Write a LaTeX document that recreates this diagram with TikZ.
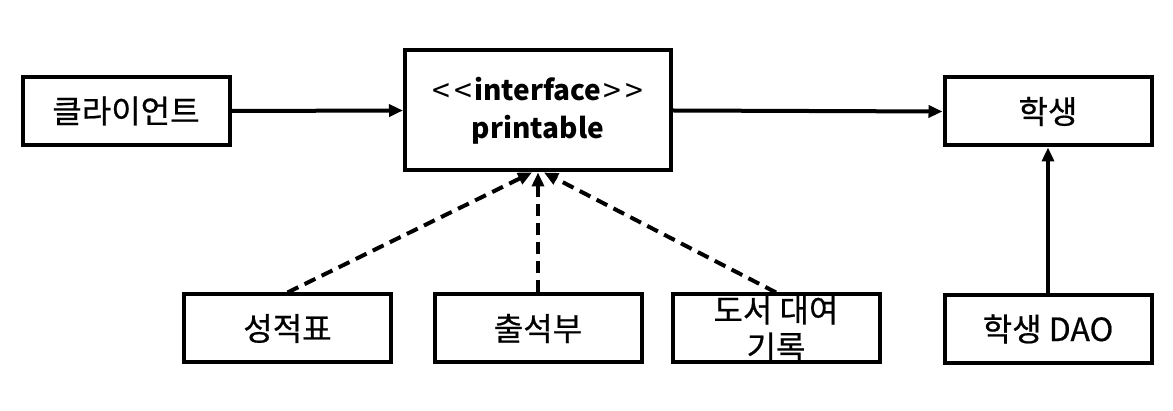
\documentclass[tikz,border=0pt]{standalone}
\usepackage{fontspec}
\setmainfont{Noto Sans CJK KR}
\newfontfamily\hfont[FakeBold=0.6]{Noto Sans CJK KR}
\usetikzlibrary{arrows.meta}
\newcommand\ltmark{{\mdseries\fontsize{32}{37}\selectfont<\kern4pt<\kern2pt}}
\newcommand\gtmark{{\mdseries\fontsize{32}{37}\selectfont\kern2pt>\kern4pt>}}
\begin{document}
\begin{tikzpicture}[x=1pt,y=-1pt,
  box/.style={draw, line width=4pt, inner sep=0pt, minimum width=207pt, minimum height=68pt, align=center, font=\hfont\fontsize{32}{37}\selectfont},
  arr/.style={line width=4pt, -{Triangle[length=14pt,width=12pt]}},
  dasharr/.style={arr, dash pattern=on 12pt off 7pt}]
\useasboundingbox (0,0) rectangle (1173,411);
\node[box] (client) at (126,111) {클라이언트};
\node[box, minimum width=266pt, minimum height=120pt, font=\fontsize{28}{38}\selectfont\bfseries] (iface) at (538,110.5) {\raisebox{-2pt}{\ltmark}interface\raisebox{-2pt}{\gtmark}\\printable};
\node[box] (stu) at (1048,111.5) {학생};
\node[box] (grade) at (287.5,328.5) {성적표};
\node[box] (attend) at (538,328.5) {출석부};
\node[box] (lib) at (776,328.5) {도서 대여\\기록};
\node[box] (dao) at (1048,329) {학생 DAO};
\draw[arr] (client.east) -- (iface.west);
\draw[arr] (iface.east) -- (stu.west);
\draw[arr] (dao.north) -- (stu.south);
\draw[dasharr] (grade.north) -- ([xshift=-6pt]iface.south);
\draw[dasharr] (attend.north) -- (iface.south);
\draw[dasharr] (lib.north) -- ([xshift=6pt]iface.south);
\end{tikzpicture}
\end{document}
